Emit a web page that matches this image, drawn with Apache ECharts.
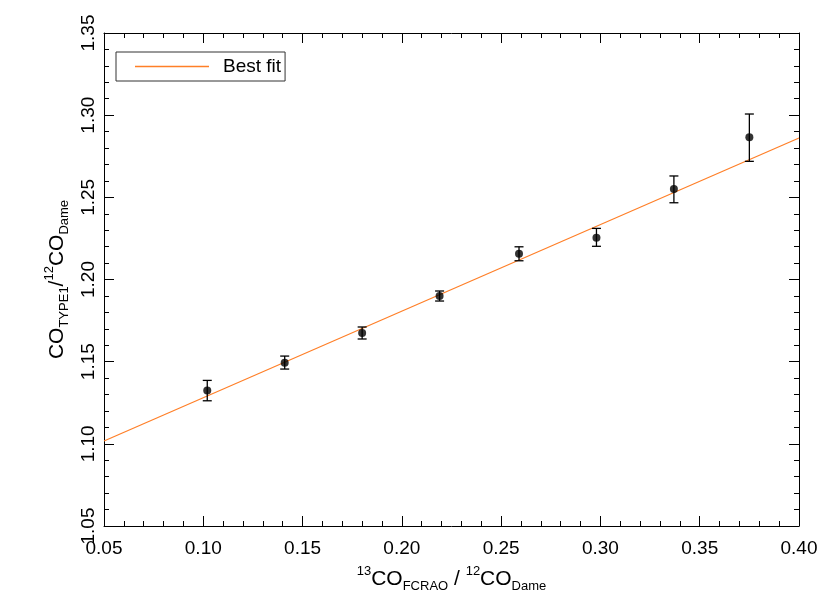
<!DOCTYPE html>
<html>
<head>
<meta charset="utf-8">
<script src="https://cdn.jsdelivr.net/npm/echarts@6/dist/echarts.min.js"></script>
<style>
  html, body { margin: 0; padding: 0; background: #fff; }
  #main { width: 830px; height: 593px; }
</style>
</head>
<body>
<div id="main"></div>
<script>
// measured ratios
var ratioX = [0.102, 0.141, 0.180, 0.219, 0.259, 0.298, 0.337, 0.375];
var ratioY = [1.1325, 1.1493, 1.1674, 1.1899, 1.2157, 1.2254, 1.2551, 1.2865];
var errLow = [1.1262, 1.1455, 1.1638, 1.1869, 1.2114, 1.2202, 1.2467, 1.2719];
var errHigh = [1.1386, 1.1534, 1.1711, 1.1930, 1.2199, 1.2311, 1.2630, 1.3007];
// best fit line ends
var fitX = [0.05, 0.40];
var fitY = [1.1017, 1.2861];

var FONT = 'Liberation Sans, Arial, Helvetica, sans-serif';
var chart = echarts.init(document.getElementById('main'), null, { renderer: 'canvas' });

var points = ratioX.map(function (x, i) { return [x, ratioY[i]]; });
var bars = ratioX.map(function (x, i) { return [x, errLow[i], errHigh[i]]; });
var fit = fitX.map(function (x, i) { return [x, fitY[i]]; });

function frameAxis(pos, isX, labels) {
  var ax = {
    type: 'value',
    position: pos,
    min: isX ? 0.05 : 1.05,
    max: isX ? 0.40 : 1.35,
    interval: 0.05,
    axisLine: { show: true, onZero: false, lineStyle: { color: '#000', width: 1 } },
    axisTick: { show: true, inside: true, length: 10, lineStyle: { color: '#000', width: 1 } },
    minorTick: { show: true, splitNumber: 5, length: 5, lineStyle: { color: '#000', width: 1 } },
    splitLine: { show: false },
    axisLabel: {
      show: labels,
      color: '#000',
      fontFamily: FONT,
      fontSize: 19,
      margin: isX ? 13 : 6,
      rotate: isX ? 0 : 90,
      showMinLabel: true,
      showMaxLabel: true,
      formatter: function (v) { return v.toFixed(2); }
    }
  };
  return ax;
}

var nameStyle = {
  fontFamily: FONT, color: '#000',
  rich: {
    m: { fontSize: 21, fontFamily: FONT, color: '#000', lineHeight: 28 },
    sup: { fontSize: 13, fontFamily: FONT, color: '#000', verticalAlign: 'top', lineHeight: 28, padding: [0, 0, 10, 0] },
    sub: { fontSize: 13, fontFamily: FONT, color: '#000', verticalAlign: 'bottom', lineHeight: 28, padding: [8, 0, 0, 0] }
  }
};

var xBottom = frameAxis('bottom', true, true);
xBottom.name = '{sup|13}{m|CO}{sub|FCRAO}{m| / }{sup|12}{m|CO}{sub|Dame}';
xBottom.nameLocation = 'middle';
xBottom.nameGap = 39;
xBottom.nameTextStyle = nameStyle;

var yLeft = frameAxis('left', false, true);
yLeft.name = '{m|CO}{sub|TYPE1}{m|/}{sup|12}{m|CO}{sub|Dame}';
yLeft.nameLocation = 'middle';
yLeft.nameGap = 33;
yLeft.nameTextStyle = nameStyle;

var option = {
  backgroundColor: '#fff',
  animation: false,
  grid: { left: 104, right: 31, top: 33, bottom: 67, containLabel: false, outerBoundsMode: 'none' },
  legend: {
    left: 116,
    top: 52,
    orient: 'vertical',
    data: ['Best fit'],
    icon: 'rect',
    itemWidth: 74,
    itemHeight: 1.5,
    padding: [5, 4, 5, 19],
    borderColor: '#333',
    borderWidth: 1,
    borderRadius: 0,
    textStyle: { fontFamily: FONT, fontSize: 19, color: '#000', padding: [0, 0, 0, 9] }
  },
  xAxis: [xBottom, frameAxis('top', true, false)],
  yAxis: [yLeft, frameAxis('right', false, false)],
  series: [
    {
      name: 'Best fit',
      type: 'line',
      symbol: 'none',
      data: fit,
      lineStyle: { color: '#ff7f27', width: 1.2 },
      itemStyle: { color: '#ff7f27' },
      z: 2
    },
    {
      name: 'errors',
      type: 'custom',
      data: bars,
      renderItem: function (params, api) {
        var lo = api.coord([api.value(0), api.value(1)]);
        var hi = api.coord([api.value(0), api.value(2)]);
        var w = 4.5;
        var st = { stroke: '#000', lineWidth: 1.3 };
        return {
          type: 'group',
          children: [
            { type: 'line', shape: { x1: lo[0], y1: lo[1], x2: hi[0], y2: hi[1] }, style: st },
            { type: 'line', shape: { x1: lo[0] - w, y1: lo[1], x2: lo[0] + w, y2: lo[1] }, style: st },
            { type: 'line', shape: { x1: hi[0] - w, y1: hi[1], x2: hi[0] + w, y2: hi[1] }, style: st }
          ]
        };
      },
      z: 3
    },
    {
      name: 'data',
      type: 'scatter',
      data: points,
      symbol: 'circle',
      symbolSize: 8,
      itemStyle: { color: '#000' },
      z: 4
    }
  ]
};

chart.setOption(option);
</script>
</body>
</html>
